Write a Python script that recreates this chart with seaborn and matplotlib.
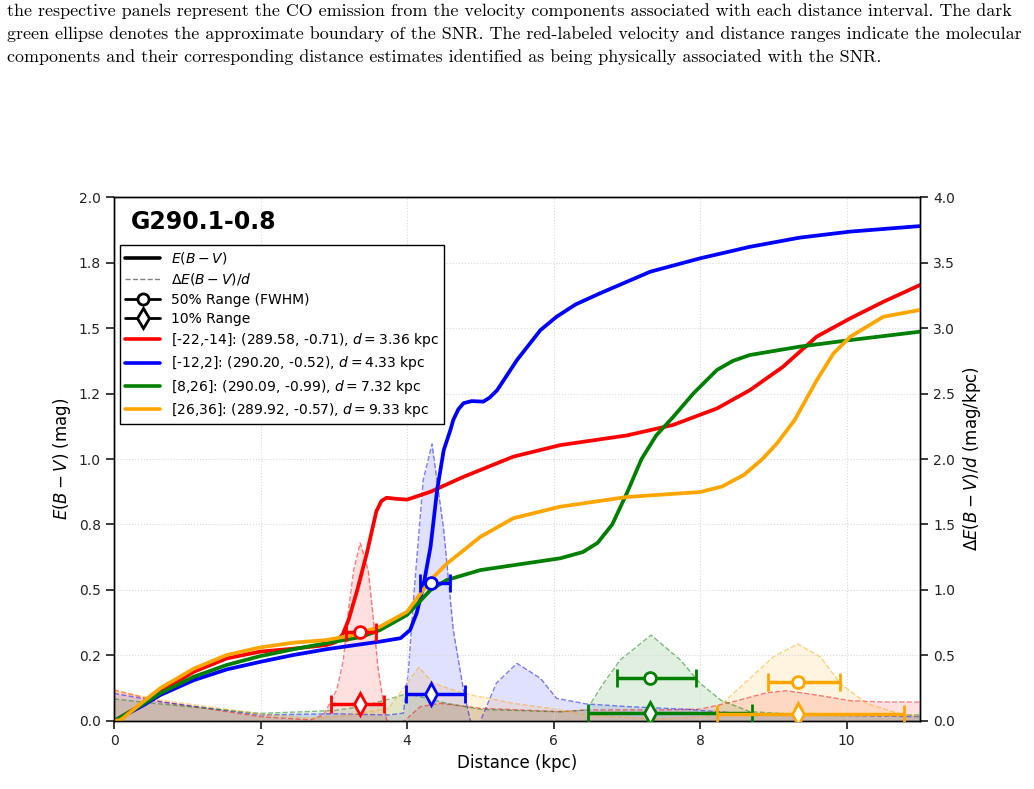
import numpy as np
import matplotlib
matplotlib.use('Agg')
import matplotlib.pyplot as plt
from matplotlib.lines import Line2D
from matplotlib.ticker import MultipleLocator, FormatStrFormatter
import seaborn as sns

# caption text of the paper figure above the plot
caption = [
    'the respective panels represent the CO emission from the velocity components associated with each distance interval. The dark',
    'green ellipse denotes the approximate boundary of the SNR. The red-labeled velocity and distance ranges indicate the molecular',
    'components and their corresponding distance estimates identified as being physically associated with the SNR.',
]

snr_name = 'G290.1-0.8'
labels = [
    '[-22,-14]: (289.58, -0.71), $d = 3.36$ kpc',
    '[-12,2]: (290.20, -0.52), $d = 4.33$ kpc',
    '[8,26]: (290.09, -0.99), $d = 7.32$ kpc',
    '[26,36]: (289.92, -0.57), $d = 9.33$ kpc',
]
colors = ['red', 'blue', 'green', 'orange']

# cumulative E(B-V) (mag) vs distance (kpc)
red_x = [0.0, 0.4, 0.63, 1.09, 1.54, 2.0, 2.45, 2.9, 3.02, 3.12, 3.2, 3.32, 3.45, 3.58, 3.65, 3.72, 3.85, 4.0,
         4.32, 4.77, 5.45, 6.09, 7.0, 7.63, 8.23, 8.68, 9.13, 9.59, 10.05, 10.5, 11.0]
red_ebv = [0.0, 0.066, 0.112, 0.188, 0.239, 0.265, 0.276, 0.29, 0.30, 0.33, 0.385, 0.50, 0.64, 0.80, 0.84, 0.852, 0.848, 0.845,
           0.875, 0.932, 1.009, 1.053, 1.09, 1.13, 1.193, 1.263, 1.352, 1.467, 1.537, 1.60, 1.664]

blue_x = [0.0, 0.4, 0.63, 1.09, 1.54, 2.0, 2.45, 2.9, 3.3, 3.63, 3.91, 4.04, 4.13, 4.22, 4.32, 4.41, 4.5,
          4.59, 4.63, 4.7, 4.77, 4.88, 5.04, 5.13, 5.23, 5.5, 5.82, 6.04, 6.3, 6.63, 7.32, 8.0, 8.68, 9.36, 10.05, 11.0]
blue_ebv = [0.0, 0.06, 0.099, 0.156, 0.197, 0.226, 0.252, 0.274, 0.29, 0.303, 0.316, 0.347, 0.411, 0.513, 0.665, 0.882, 1.034,
            1.11, 1.149, 1.19, 1.213, 1.221, 1.219, 1.235, 1.263, 1.378, 1.492, 1.543, 1.59, 1.632, 1.715, 1.766, 1.81, 1.845,
            1.868, 1.889]

green_x = [0.0, 0.4, 0.63, 1.09, 1.54, 2.0, 2.45, 2.9, 3.36, 3.63, 4.0, 4.32, 4.54, 5.0, 6.09, 6.4, 6.6,
           6.8, 7.0, 7.2, 7.4, 7.63, 7.91, 8.23, 8.45, 8.68, 9.36, 10.05, 11.0]
green_ebv = [0.0, 0.065, 0.106, 0.169, 0.214, 0.248, 0.274, 0.297, 0.32, 0.347, 0.405, 0.50, 0.538, 0.576, 0.621, 0.645, 0.68,
             0.75, 0.87, 1.0, 1.09, 1.16, 1.251, 1.34, 1.375, 1.397, 1.429, 1.454, 1.486]

orange_x = [0.0, 0.09, 0.4, 0.63, 1.09, 1.54, 2.0, 2.45, 2.9, 3.3, 3.63, 4.0, 4.32, 4.54, 5.0, 5.45, 6.09,
            7.0, 8.0, 8.3, 8.6, 8.85, 9.05, 9.29, 9.59, 9.82, 10.05, 10.5, 11.0]
orange_ebv = [0.0, 0.004, 0.074, 0.125, 0.20, 0.252, 0.281, 0.299, 0.309, 0.33, 0.36, 0.417, 0.538, 0.60, 0.703, 0.774, 0.818,
              0.855, 0.874, 0.895, 0.94, 1.0, 1.06, 1.149, 1.30, 1.403, 1.467, 1.543, 1.569]

# differential extinction dE(B-V)/d (mag/kpc)
red_dx = [0.0, 0.63, 2.0, 2.68, 2.86, 3.04, 3.13, 3.2, 3.27, 3.36, 3.47, 3.54, 3.6, 3.66, 3.72, 3.85, 4.0,
          4.18, 4.45, 5.0, 6.09, 6.45, 7.5, 8.0, 8.45, 8.91, 9.18, 9.59, 10.05, 10.5, 11.0]
red_dedd = [0.237, 0.147, 0.033, 0.008, 0.046, 0.237, 0.466, 0.85, 1.15, 1.36, 1.15, 0.78, 0.42, 0.2, 0.01, -0.05, 0.02,
            0.109, 0.135, 0.097, 0.071, 0.084, 0.085, 0.09, 0.147, 0.216, 0.231, 0.198, 0.155, 0.145, 0.145]

blue_dx = [0.0, 0.63, 2.0, 3.0, 3.75, 3.95, 4.02, 4.09, 4.22, 4.34, 4.5, 4.63, 4.77, 4.86, 4.93, 5.0,
           5.22, 5.5, 5.82, 6.04, 6.45, 7.04, 7.82, 8.5, 9.5, 11.0]
blue_dedd = [0.211, 0.147, 0.046, 0.055, 0.046, 0.06, 0.4, 0.949, 1.84, 2.115, 1.458, 0.695, 0.237, 0.008, -0.05, 0.0,
             0.29, 0.44, 0.326, 0.173, 0.13, 0.109, 0.089, 0.06, 0.045, 0.033]

green_dx = [0.0, 0.63, 2.0, 3.0, 3.36, 3.75, 4.0, 4.54, 5.0, 6.09, 6.45, 6.68, 6.91, 7.33, 7.73, 8.0,
            8.28, 8.68, 9.5, 11.0]
green_dedd = [0.168, 0.13, 0.058, 0.08, 0.109, 0.166, 0.21, 0.135, 0.089, 0.07, 0.084, 0.288, 0.466, 0.656, 0.466, 0.288,
              0.16, 0.071, 0.045, 0.046]

orange_dx = [0.0, 0.63, 2.0, 2.68, 3.13, 3.75, 4.0, 4.16, 4.36, 4.77, 5.45, 6.09, 6.45, 7.36, 8.09, 8.23,
             8.68, 9.0, 9.33, 9.64, 9.91, 10.27, 10.73, 11.0]
orange_dedd = [0.232, 0.16, 0.053, 0.02, 0.038, 0.097, 0.288, 0.41, 0.288, 0.21, 0.135, 0.084, 0.046, 0.013, 0.033, 0.097,
               0.326, 0.49, 0.588, 0.49, 0.288, 0.135, 0.053, 0.033]

# distance estimate with 50% (FWHM) and 10% ranges (kpc); bar heights in mag
d_best = [3.36, 4.33, 7.32, 9.33]
fwhm_lo = [3.16, 4.18, 6.87, 8.93]
fwhm_hi = [3.575, 4.58, 7.945, 9.91]
fwhm_y = [0.338, 0.527, 0.165, 0.148]
ten_lo = [2.96, 3.99, 6.47, 8.23]
ten_hi = [3.69, 4.79, 8.71, 10.78]
ten_y = [0.065, 0.103, 0.029, 0.027]

ebv_curves = [(red_x, red_ebv), (blue_x, blue_ebv), (green_x, green_ebv), (orange_x, orange_ebv)]
dedd_curves = [(red_dx, red_dedd), (blue_dx, blue_dedd), (green_dx, green_dedd), (orange_dx, orange_dedd)]

sns.set_theme(style='ticks')
plt.rcParams['font.family'] = ['DejaVu Sans']
plt.rcParams['text.color'] = 'black'
plt.rcParams['axes.labelcolor'] = 'black'

fig, ax = plt.subplots(figsize=(10.34, 7.89), dpi=100)
fig.subplots_adjust(left=0.1103, right=0.8897, bottom=0.0862, top=0.7503)
ax2 = ax.twinx()
ax.set_zorder(ax2.get_zorder() + 1)
ax.patch.set_visible(False)

for (dx, dy), c in zip(dedd_curves, colors):
    sns.lineplot(x=dx, y=dy, ax=ax2, color=c, lw=1, linestyle='--', alpha=0.5, legend=False)
    ax2.fill_between(dx, 0, dy, color=c, alpha=0.12, lw=0)

for (x, y), c in zip(ebv_curves, colors):
    sns.lineplot(x=x, y=y, ax=ax, color=c, lw=2.7, legend=False)

for i, c in enumerate(colors):
    d = d_best[i]
    ax.errorbar([d], [fwhm_y[i]], xerr=[[d - fwhm_lo[i]], [fwhm_hi[i] - d]], fmt='o', color=c,
                mfc='white', mec=c, ms=8.5, mew=2, elinewidth=2.5, capsize=6.5, capthick=2.5, zorder=6)
    ax.errorbar([d], [ten_y[i]], xerr=[[d - ten_lo[i]], [ten_hi[i] - d]], fmt='d', color=c,
                mfc='white', mec=c, ms=11, mew=2, elinewidth=2.5, capsize=6.5, capthick=2.5, zorder=6)

ax.set_xlim(0, 11)
ax.set_ylim(0, 2.0)
ax2.set_ylim(0, 4.0)
ax.xaxis.set_major_locator(MultipleLocator(2))
ax.yaxis.set_major_locator(MultipleLocator(0.25))
ax.yaxis.set_major_formatter(FormatStrFormatter('%.1f'))
ax2.yaxis.set_major_locator(MultipleLocator(0.5))
ax2.yaxis.set_major_formatter(FormatStrFormatter('%.1f'))
ax.grid(True, ls=':', color='#d9d9d9', lw=0.8)
for a in (ax, ax2):
    a.tick_params(labelsize=10, colors='#222222')
    for s in a.spines.values():
        s.set_color('black')
        s.set_linewidth(1.0)

ax.set_xlabel('Distance (kpc)', fontsize=12)
ax.set_ylabel('$E(B-V)$ (mag)', fontsize=12)
ax2.set_ylabel(r'$\Delta E(B-V)/d$ (mag/kpc)', fontsize=12)

ax.text(0.021, 0.975, snr_name, transform=ax.transAxes, fontsize=17, fontweight='bold', va='top', ha='left',
        color='black')

handles = [
    Line2D([], [], color='black', lw=2.6, label='$E(B-V)$'),
    Line2D([], [], color='gray', lw=1, ls='--', label=r'$\Delta E(B-V)/d$'),
    Line2D([], [], color='black', lw=2, marker='o', mfc='white', mec='black', ms=8, mew=2, label='50% Range (FWHM)'),
    Line2D([], [], color='black', lw=2, marker='d', mfc='white', mec='black', ms=10, mew=2, label='10% Range'),
]
for lab, c in zip(labels, colors):
    handles.append(Line2D([], [], color=c, lw=2.6, label=lab))
leg = ax.legend(handles=handles, loc='upper left', bbox_to_anchor=(0.008, 0.908), borderaxespad=0,
                fontsize=10, frameon=True, fancybox=False, framealpha=1, edgecolor='black', handlelength=2.5,
                borderpad=0.35, labelspacing=0.38)
leg.get_frame().set_linewidth(1.0)

for i, line in enumerate(caption):
    fig.text(0.007, 0.986 - i * 0.029, line, fontsize=12.95, va='center', ha='left',
             family=['cmr10', 'Liberation Serif'])

fig.savefig('out.png', dpi=100)
